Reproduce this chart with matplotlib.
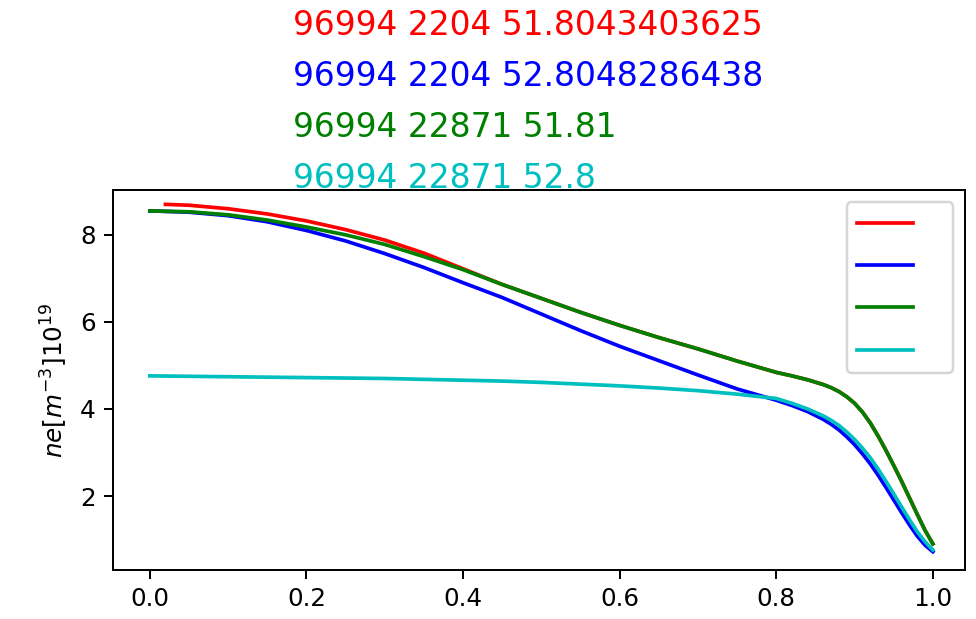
import matplotlib

matplotlib.use("Agg")
import matplotlib.pyplot as plt

# profile samples (normalised radius)
x_prof = [0.00, 0.05, 0.10, 0.15, 0.20, 0.25, 0.30, 0.35, 0.40, 0.45, 0.50,
          0.55, 0.60, 0.65, 0.70, 0.75, 0.80, 0.82, 0.84, 0.86, 0.87, 0.88,
          0.89, 0.90, 0.91, 0.92, 0.93, 0.94, 0.95, 0.96, 0.97, 0.98, 0.99,
          1.00]
ne_blue = [8.55, 8.52, 8.44, 8.30, 8.10, 7.86, 7.57, 7.25, 6.90, 6.56, 6.18,
           5.80, 5.44, 5.11, 4.78, 4.46, 4.20, 4.08, 3.94, 3.76, 3.65, 3.52,
           3.36, 3.18, 2.97, 2.74, 2.48, 2.20, 1.91, 1.62, 1.34, 1.08, 0.87,
           0.72]
ne_green = [8.55, 8.53, 8.46, 8.34, 8.18, 8.00, 7.78, 7.50, 7.20, 6.86, 6.54,
            6.22, 5.92, 5.64, 5.38, 5.10, 4.84, 4.76, 4.67, 4.56, 4.49, 4.40,
            4.28, 4.13, 3.93, 3.68, 3.38, 3.05, 2.70, 2.34, 1.96, 1.58, 1.21,
            0.90]
ne_cyan = [4.76, 4.75, 4.74, 4.73, 4.72, 4.71, 4.70, 4.68, 4.66, 4.64, 4.61,
           4.57, 4.53, 4.48, 4.42, 4.34, 4.24, 4.13, 4.00, 3.84, 3.74, 3.62,
           3.47, 3.30, 3.10, 2.88, 2.62, 2.34, 2.05, 1.75, 1.46, 1.18, 0.95,
           0.76]

x_red = [0.02, 0.05, 0.10, 0.15, 0.20, 0.25, 0.30, 0.35, 0.40, 0.45, 0.50,
         0.55, 0.60, 0.65, 0.70, 0.75, 0.80, 0.82, 0.84, 0.86, 0.87, 0.88,
         0.89, 0.90, 0.91, 0.92, 0.93, 0.94, 0.95, 0.96, 0.97, 0.98, 0.99,
         1.00]
ne_red = [8.70, 8.68, 8.60, 8.48, 8.32, 8.12, 7.88, 7.58, 7.22, 6.86, 6.54,
          6.22, 5.92, 5.64, 5.38, 5.10, 4.84, 4.76, 4.67, 4.56, 4.49, 4.40,
          4.28, 4.13, 3.93, 3.68, 3.38, 3.05, 2.70, 2.34, 1.96, 1.58, 1.21,
          0.90]

titles = ["96994 2204 51.8043403625", "96994 2204 52.8048286438",
          "96994 22871 51.81", "96994 22871 52.8"]
colors = ["r", "b", "g", "c"]

fig = plt.figure(figsize=(976 / 177, 619 / 177), dpi=177)
ax = fig.add_axes([113 / 976, 1 - 570 / 619, (965 - 113) / 976, (570 - 190) / 619])

lines = []
lines += ax.plot(x_red, ne_red, color="r")
lines += ax.plot(x_prof, ne_blue, color="b")
lines += ax.plot(x_prof, ne_green, color="g")
lines += ax.plot(x_prof, ne_cyan, color="c")

ax.set_xlim(-0.047, 1.041)
ax.set_ylim(0.30, 9.03)
ax.set_xticks([0.0, 0.2, 0.4, 0.6, 0.8, 1.0])
ax.set_yticks([2, 4, 6, 8])
ax.set_ylabel(r"$ne[m^{-3}]10^{19}$")

ax.legend(lines, ["", "", "", ""], loc="upper right",
          handlelength=2.3, handletextpad=1.2, labelspacing=0.75)

# stacked coloured headers above the axes
for i, (t, c) in enumerate(zip(titles, colors)):
    fig.text(293 / 976, 1 - (35 + 51 * i) / 619, t, color=c, fontsize=13.4,
             ha="left", va="baseline")

fig.savefig("out.png", dpi=177)
